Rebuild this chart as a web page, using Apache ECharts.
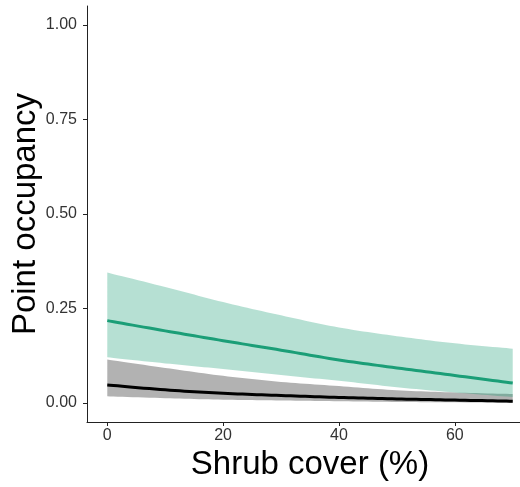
<!DOCTYPE html>
<html>
<head>
<meta charset="utf-8">
<style>
  html, body { margin: 0; padding: 0; background: #fff; }
  #chart { width: 520px; height: 487px; }
</style>
<script src="https://cdn.jsdelivr.net/npm/echarts@6/dist/echarts.min.js"></script>
</head>
<body>
<div id="chart"></div>
<script>
// shrub cover (%)
var shrubCover = [0, 10, 20, 30, 40, 50, 60, 70]
// green group: fit and ribbon
var greenFit = [0.218, 0.191, 0.165, 0.140, 0.114, 0.093, 0.073, 0.053]
var greenUpper = [0.345, 0.307, 0.267, 0.232, 0.200, 0.177, 0.158, 0.144]
var greenLower = [0.121, 0.105, 0.090, 0.074, 0.059, 0.042, 0.028, 0.016]
// black group: fit and ribbon
var blackFit = [0.048, 0.035, 0.026, 0.020, 0.015, 0.011, 0.008, 0.005]
var blackUpper = [0.115, 0.093, 0.072, 0.056, 0.045, 0.034, 0.028, 0.024]
var blackLower = [0.018, 0.013, 0.009, 0.007, 0.005, 0.003, 0.002, 0.001]
var yTicks = [0, 0.25, 0.5, 0.75, 1]
var xTicks = [0, 20, 40, 60]

function pairs (ys) {
  return shrubCover.map(function (x, i) { return [x, ys[i]] })
}

var font = 'Liberation Sans, Arial, sans-serif'
var axisColor = '#222'

// smooth outline in pixel space (catmull-rom through the projected points)
function smoothEdge (pts) {
  var out = []
  var n = pts.length
  for (var i = 0; i < n - 1; i++) {
    var p0 = pts[Math.max(i - 1, 0)]
    var p1 = pts[i]
    var p2 = pts[i + 1]
    var p3 = pts[Math.min(i + 2, n - 1)]
    var c1 = [p1[0] + (p2[0] - p0[0]) / 6, p1[1] + (p2[1] - p0[1]) / 6]
    var c2 = [p2[0] - (p3[0] - p1[0]) / 6, p2[1] - (p3[1] - p1[1]) / 6]
    for (var s = 0; s < 12; s++) {
      var t = s / 12
      var u = 1 - t
      out.push([
        u * u * u * p1[0] + 3 * u * u * t * c1[0] + 3 * u * t * t * c2[0] + t * t * t * p2[0],
        u * u * u * p1[1] + 3 * u * u * t * c1[1] + 3 * u * t * t * c2[1] + t * t * t * p2[1]
      ])
    }
  }
  out.push(pts[n - 1])
  return out
}

function project (api, ys) {
  return shrubCover.map(function (x, i) { return api.coord([x, ys[i]]) })
}

// ribbon = upper edge left to right, lower edge back
function ribbonSeries (hi, lo, color) {
  return {
    type: 'custom',
    silent: true,
    clip: false,
    data: pairs(hi),
    renderItem: function (params, api) {
      if (params.dataIndex !== 0) return null
      var top = project(api, hi)
      var bottom = project(api, lo).reverse()
      return {
        type: 'polygon',
        shape: { points: smoothEdge(top).concat(smoothEdge(bottom)) },
        style: { fill: color, stroke: null }
      }
    }
  }
}

function fitSeries (ys, color) {
  return {
    type: 'custom',
    silent: true,
    clip: false,
    data: pairs(ys),
    renderItem: function (params, api) {
      if (params.dataIndex !== 0) return null
      return {
        type: 'polyline',
        shape: { points: smoothEdge(project(api, ys)) },
        style: { stroke: color, lineWidth: 3, fill: null, lineJoin: 'round' }
      }
    }
  }
}

var chart = echarts.init(document.getElementById('chart'))
chart.setOption({
  animation: false,
  backgroundColor: '#fff',
  grid: { left: 87, right: -13, top: 6, bottom: 65, outerBoundsMode: 'none', containLabel: false },
  xAxis: {
    type: 'value',
    min: -3.5,
    max: 73.5,
    name: 'Shrub cover (%)',
    nameLocation: 'middle',
    nameGap: 26,
    nameMoveOverlap: false,
    nameTextStyle: { fontFamily: font, fontSize: 33, color: '#000' },
    splitLine: { show: false },
    axisLine: { onZero: false, lineStyle: { color: axisColor, width: 1 } },
    axisTick: { customValues: xTicks, length: 4, lineStyle: { color: axisColor } },
    axisLabel: { customValues: xTicks, margin: 6, fontFamily: font, fontSize: 16, color: '#333' }
  },
  yAxis: {
    type: 'value',
    min: -0.05,
    max: 1.05,
    name: 'Point occupancy',
    nameLocation: 'middle',
    nameGap: 45,
    nameMoveOverlap: false,
    nameTextStyle: { fontFamily: font, fontSize: 33, color: '#000' },
    splitLine: { show: false },
    axisLine: { show: true, onZero: false, lineStyle: { color: axisColor, width: 1 } },
    axisTick: { show: true, customValues: yTicks, length: 4, lineStyle: { color: axisColor } },
    axisLabel: {
      customValues: yTicks,
      margin: 10,
      fontFamily: font,
      fontSize: 16,
      color: '#333',
      formatter: function (v) { return v.toFixed(2) }
    }
  },
  series: [
    ribbonSeries(blackUpper, blackLower, 'rgba(0,0,0,0.3)'),
    ribbonSeries(greenUpper, greenLower, 'rgba(27,158,119,0.32)'),
    fitSeries(blackFit, '#000'),
    fitSeries(greenFit, '#1b9e77')
  ]
})
</script>
</body>
</html>
